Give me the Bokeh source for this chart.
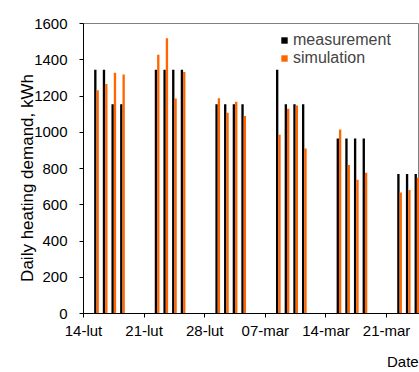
import pandas as pd
from bokeh.plotting import figure
from bokeh.models import (Range1d, FixedTicker, CustomJSTickFormatter,
                          ColumnDataSource, Legend, LegendItem)
from bokeh.transform import dodge
from bokeh.embed import file_html
from bokeh.resources import INLINE

# ---------------- data ----------------
dates = [
    "2011-02-15", "2011-02-16", "2011-02-17", "2011-02-18",
    "2011-02-22", "2011-02-23", "2011-02-24", "2011-02-25",
    "2011-03-01", "2011-03-02", "2011-03-03", "2011-03-04",
    "2011-03-08", "2011-03-09", "2011-03-10", "2011-03-11",
    "2011-03-15", "2011-03-16", "2011-03-17", "2011-03-18",
    "2011-03-22", "2011-03-23", "2011-03-24",
]
measurement = [
    1345, 1345, 1155, 1155,
    1345, 1345, 1345, 1345,
    1155, 1155, 1155, 1155,
    1345, 1155, 1155, 1155,
    965, 965, 965, 965,
    770, 770, 770,
]
simulation = [
    1232, 1266, 1328, 1318,
    1427, 1519, 1186, 1332,
    1188, 1107, 1168, 1089,
    986, 1129, 1147, 910,
    1015, 820, 738, 777,
    668, 681, 749,
]
tick_dates = ["2011-02-14", "2011-02-21", "2011-02-28", "2011-03-07", "2011-03-14", "2011-03-21"]
y_ticks = [0, 200, 400, 600, 800, 1000, 1200, 1400, 1600]

# ---------------- plot ----------------
DAY = 86400000.0
FONT = "Liberation Sans"

src = ColumnDataSource(dict(date=pd.to_datetime(dates), meas=measurement, sim=simulation))

x0 = pd.Timestamp("2011-02-14")
x1 = x0 + pd.Timedelta(days=38.8)

p = figure(width=419, height=372, x_axis_type="datetime",
           output_backend="svg", toolbar_location=None,
           x_range=Range1d(x0, x1), y_range=Range1d(0, 1600),
           min_border_left=83, min_border_right=0, min_border_top=23, min_border_bottom=59)
p.background_fill_color = "white"
p.border_fill_color = "white"
p.outline_line_color = "#808080"
p.outline_line_width = 1
p.xgrid.visible = False
p.ygrid.visible = False

r_meas = p.vbar(x=dodge("date", 0.365 * DAY), top="meas", bottom=0, width=0.27 * DAY,
                source=src, fill_color="#000000", line_color=None)
r_sim = p.vbar(x=dodge("date", 0.635 * DAY), top="sim", bottom=0, width=0.27 * DAY,
               source=src, fill_color="#FF6600", line_color=None)

# x axis
xa = p.xaxis[0]
xa.ticker = FixedTicker(ticks=[pd.Timestamp(d).value / 1e6 for d in tick_dates])
xa.formatter = CustomJSTickFormatter(code="""
const m = ["sty","lut","mar","kwi","maj","cze","lip","sie","wrz","paź","lis","gru"];
const d = new Date(tick);
return String(d.getUTCDate()).padStart(2, "0") + "-" + m[d.getUTCMonth()];
""")
xa.minor_tick_line_color = None
xa.major_tick_in = 0
xa.major_tick_out = 4
xa.major_label_standoff = 4
xa.major_label_text_font = FONT
xa.major_label_text_font_size = "15px"
xa.major_label_text_color = "#000000"
xa.axis_line_color = "#000000"
xa.major_tick_line_color = "#000000"
# label centred on the axis end; trailing no-break spaces push the word left of it
xa.axis_label = "Date" + "\u00a0" * 8
xa.axis_label_align = "end"
xa.axis_label_standoff = 11
xa.axis_label_text_font = FONT
xa.axis_label_text_font_size = "15px"
xa.axis_label_text_font_style = "normal"
xa.axis_label_text_color = "#000000"

# y axis
ya = p.yaxis[0]
ya.ticker = FixedTicker(ticks=y_ticks)
ya.minor_tick_line_color = None
ya.major_tick_in = 0
ya.major_tick_out = 4
ya.major_label_standoff = 12
ya.major_label_text_font = FONT
ya.major_label_text_font_size = "15px"
ya.major_label_text_color = "#000000"
ya.axis_line_color = "#000000"
ya.major_tick_line_color = "#000000"
ya.axis_label = "Daily heating demand, kWh" + "\u00a0" * 4
ya.axis_label_text_font = FONT
ya.axis_label_text_font_size = "17px"
ya.axis_label_text_font_style = "normal"
ya.axis_label_text_color = "#000000"
ya.axis_label_standoff = -6

legend = Legend(items=[LegendItem(label="measurement", renderers=[r_meas]),
                       LegendItem(label="simulation", renderers=[r_sim])],
                location=(197, 246), padding=0, margin=0, spacing=0,
                glyph_width=8, glyph_height=8, label_height=18, label_standoff=5,
                label_text_font=FONT, label_text_font_size="16px",
                border_line_color=None, background_fill_alpha=0)
p.add_layout(legend)

open("out.html", "w").write(file_html(p, INLINE))
